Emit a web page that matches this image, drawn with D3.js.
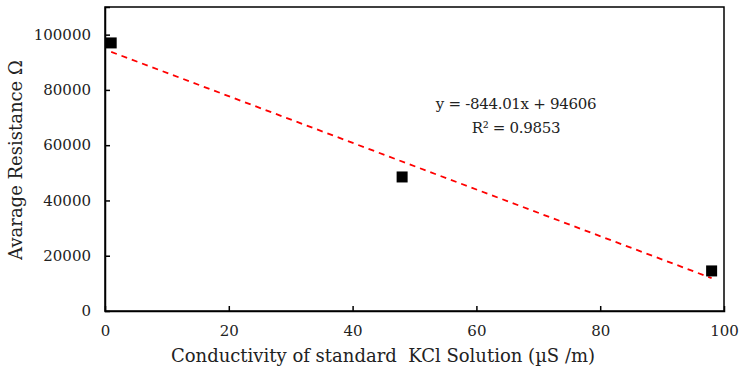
<!DOCTYPE html>
<html>
  <head>
    <style>
    body { margin: 0px; overflow: hidden; background: white; }
    svg { display: block; }
    text { font-family: "DejaVu Serif", serif; fill: #222; }
    </style>
    <script src="https://d3js.org/d3.v7.min.js"></script>
  </head>
  <body>
    <svg width="739" height="375"></svg>
    <script>
        // data
        const conductivity = [1, 48, 98];
        const resistance = [97000, 48500, 14500];
        const xTicks = [0, 20, 40, 60, 80, 100];
        const yTicks = [0, 20000, 40000, 60000, 80000, 100000];
        const slope = -844.01, intercept = 94606;
        const eqLabels = ["y = -844.01x + 94606", "R² = 0.9853"];

        const svg = d3.select('svg');
        const margin = { top: 7, right: 15, bottom: 64, left: 105 };
        const innerWidth = 739 - margin.left - margin.right;
        const innerHeight = 375 - margin.top - margin.bottom;

        const xScale = d3.scaleLinear().domain([0, 100]).range([0, innerWidth]);
        const yScale = d3.scaleLinear().domain([0, 110000]).range([innerHeight, 0]);

        const g = svg.append('g')
            .attr('transform', `translate(${margin.left},${margin.top})`);

        // plot frame
        g.append('rect')
            .attr('width', innerWidth).attr('height', innerHeight)
            .attr('fill', 'none').attr('stroke', 'black').attr('stroke-width', 1.5);

        //axes, ticks pointing inward
        const xAxisG = g.append('g')
            .attr('transform', `translate(0,${innerHeight})`)
            .call(d3.axisBottom(xScale).tickValues(xTicks).tickSize(-5).tickPadding(14));
        const yAxisG = g.append('g')
            .call(d3.axisLeft(yScale).tickValues(yTicks).tickSize(-5).tickPadding(14).tickFormat(d3.format('d')));

        [xAxisG, yAxisG].forEach(a => {
            a.select('.domain').attr('stroke-width', 1.5);
            a.selectAll('.tick line').attr('stroke-width', 1.5);
            a.selectAll('.tick text').attr('font-size', 15).attr('font-family', '"DejaVu Serif", serif').attr('fill', '#222');
        });
        xAxisG.selectAll('.tick').filter(d => d === 0 || d === 100).select('line').remove();
        yAxisG.selectAll('.tick').filter(d => d === 0).select('line').remove();

        // trendline
        const xMin = d3.min(conductivity), xMax = d3.max(conductivity);
        g.append('line')
            .attr('x1', xScale(xMin)).attr('y1', yScale(slope * xMin + intercept))
            .attr('x2', xScale(xMax)).attr('y2', yScale(slope * xMax + intercept))
            .attr('stroke', '#ff0000').attr('stroke-width', 1.8)
            .attr('stroke-dasharray', '6,5');

        // markers
        const s = 11;
        g.selectAll('rect.pt').data(conductivity)
            .enter().append('rect')
                .attr('class', 'pt')
                .attr('x', (d, i) => xScale(d) - s / 2)
                .attr('y', (d, i) => yScale(resistance[i]) - s / 2)
                .attr('width', s).attr('height', s)
                .attr('fill', 'black');

        // equation
        g.selectAll('text.eq').data(eqLabels)
            .enter().append('text')
                .attr('class', 'eq')
                .attr('x', 411).attr('y', (d, i) => 102 + i * 24)
                .attr('text-anchor', 'middle')
                .attr('font-size', 15)
                .attr('letter-spacing', -0.3)
                .text(d => d);

        // axis titles
        svg.append('text')
            .attr('x', 383).attr('y', 362)
            .attr('text-anchor', 'middle').attr('font-size', 18)
            .style('white-space', 'pre')
            .text('Conductivity of standard  KCl Solution (µS /m)');
        svg.append('text')
            .attr('transform', `translate(22,${160}) rotate(-90)`)
            .attr('text-anchor', 'middle').attr('font-size', 18)
            .text('Avarage Resistance Ω');
    </script>
  </body>
</html>
